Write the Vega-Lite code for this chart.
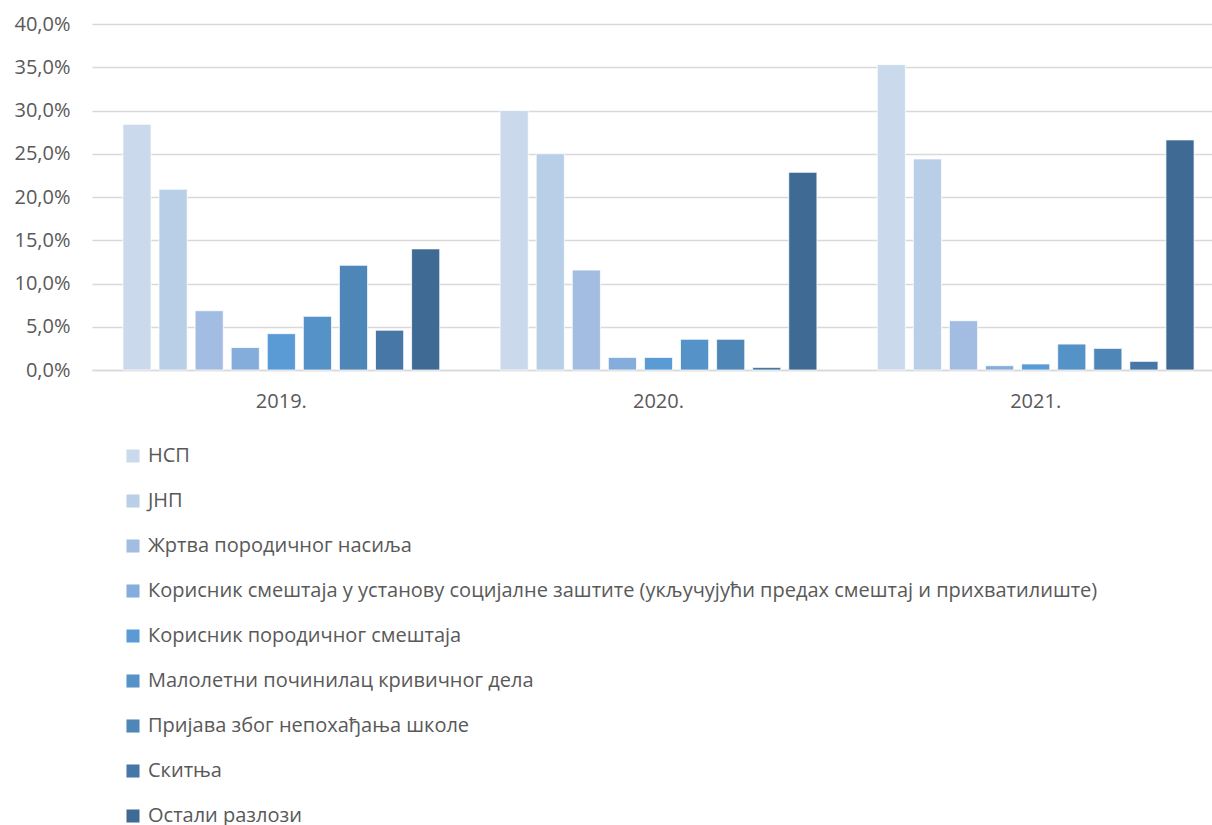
{
  "$schema": "https://vega.github.io/schema/vega-lite/v6.json",
  "width": 1120,
  "height": 346,
  "autosize": {"type": "none"},
  "padding": {"left": 92, "top": 24, "right": 0, "bottom": 455},
  "background": "white",
  "config": {
    "font": "Open Sans",
    "view": {"stroke": null}
  },
  "data": {
    "values": [
      {"year": "2019.", "cat": "НСП", "o": 1, "v": 28.4},
      {"year": "2019.", "cat": "ЈНП", "o": 2, "v": 20.9},
      {"year": "2019.", "cat": "Жртва породичног насиља", "o": 3, "v": 6.85},
      {"year": "2019.", "cat": "Корисник смештаја у установу социјалне заштите (укључујући предах смештај и прихватилиште)", "o": 4, "v": 2.6},
      {"year": "2019.", "cat": "Корисник породичног смештаја", "o": 5, "v": 4.2},
      {"year": "2019.", "cat": "Малолетни починилац кривичног дела", "o": 6, "v": 6.2},
      {"year": "2019.", "cat": "Пријава због непохађања школе", "o": 7, "v": 12.1},
      {"year": "2019.", "cat": "Скитња", "o": 8, "v": 4.6},
      {"year": "2019.", "cat": "Остали разлози", "o": 9, "v": 14.0},
      {"year": "2020.", "cat": "НСП", "o": 1, "v": 30.0},
      {"year": "2020.", "cat": "ЈНП", "o": 2, "v": 25.0},
      {"year": "2020.", "cat": "Жртва породичног насиља", "o": 3, "v": 11.55},
      {"year": "2020.", "cat": "Корисник смештаја у установу социјалне заштите (укључујући предах смештај и прихватилиште)", "o": 4, "v": 1.45},
      {"year": "2020.", "cat": "Корисник породичног смештаја", "o": 5, "v": 1.45},
      {"year": "2020.", "cat": "Малолетни починилац кривичног дела", "o": 6, "v": 3.55},
      {"year": "2020.", "cat": "Пријава због непохађања школе", "o": 7, "v": 3.55},
      {"year": "2020.", "cat": "Скитња", "o": 8, "v": 0.3},
      {"year": "2020.", "cat": "Остали разлози", "o": 9, "v": 22.85},
      {"year": "2021.", "cat": "НСП", "o": 1, "v": 35.3},
      {"year": "2021.", "cat": "ЈНП", "o": 2, "v": 24.4},
      {"year": "2021.", "cat": "Жртва породичног насиља", "o": 3, "v": 5.7},
      {"year": "2021.", "cat": "Корисник смештаја у установу социјалне заштите (укључујући предах смештај и прихватилиште)", "o": 4, "v": 0.5},
      {"year": "2021.", "cat": "Корисник породичног смештаја", "o": 5, "v": 0.7},
      {"year": "2021.", "cat": "Малолетни починилац кривичног дела", "o": 6, "v": 3.0},
      {"year": "2021.", "cat": "Пријава због непохађања школе", "o": 7, "v": 2.5},
      {"year": "2021.", "cat": "Скитња", "o": 8, "v": 1.0},
      {"year": "2021.", "cat": "Остали разлози", "o": 9, "v": 26.6}
    ]
  },
  "mark": {"type": "bar", "stroke": "white", "strokeWidth": 0.75},
  "encoding": {
    "x": {
      "field": "year", "type": "nominal",
      "scale": {"paddingInner": 0.16, "paddingOuter": 0.082, "range": [0, 1133]},
      "axis": {
        "title": null, "labelAngle": 0, "labelFontSize": 20, "labelColor": "#595959",
        "labelPadding": 21, "ticks": false, "domainColor": "#D9D9D9", "domainWidth": 1.5
      }
    },
    "xOffset": {
      "field": "o", "type": "ordinal",
      "scale": {"paddingInner": 0.22, "paddingOuter": 0}
    },
    "y": {
      "field": "v", "type": "quantitative",
      "scale": {"domain": [0, 40]},
      "axis": {
        "title": null, "values": [0, 5, 10, 15, 20, 25, 30, 35, 40],
        "labelExpr": "replace(format(datum.value, '.1f'), '.', ',') + '%'",
        "labelFontSize": 20, "labelColor": "#595959", "labelPadding": 22,
        "ticks": false, "domain": false, "gridColor": "#D9D9D9", "gridWidth": 1.5
      }
    },
    "color": {
      "field": "cat", "type": "nominal",
      "sort": {"field": "o"},
      "scale": {
        "domain": ["НСП", "ЈНП", "Жртва породичног насиља", "Корисник смештаја у установу социјалне заштите (укључујући предах смештај и прихватилиште)", "Корисник породичног смештаја", "Малолетни починилац кривичног дела", "Пријава због непохађања школе", "Скитња", "Остали разлози"],
        "range": ["#CBD9EC", "#B9CEE7", "#A2BDE1", "#84ADDC", "#5B9BD5", "#5592C8", "#4E86B8", "#4677A6", "#3E6A94"]
      },
      "legend": {
        "title": null, "orient": "none", "direction": "vertical",
        "legendX": 31, "legendY": 422,
        "symbolType": "square", "symbolSize": 170, "symbolStrokeWidth": 0,
        "labelFontSize": 20, "labelColor": "#595959", "labelLimit": 1100,
        "rowPadding": 25, "labelOffset": 5
      }
    }
  }
}
